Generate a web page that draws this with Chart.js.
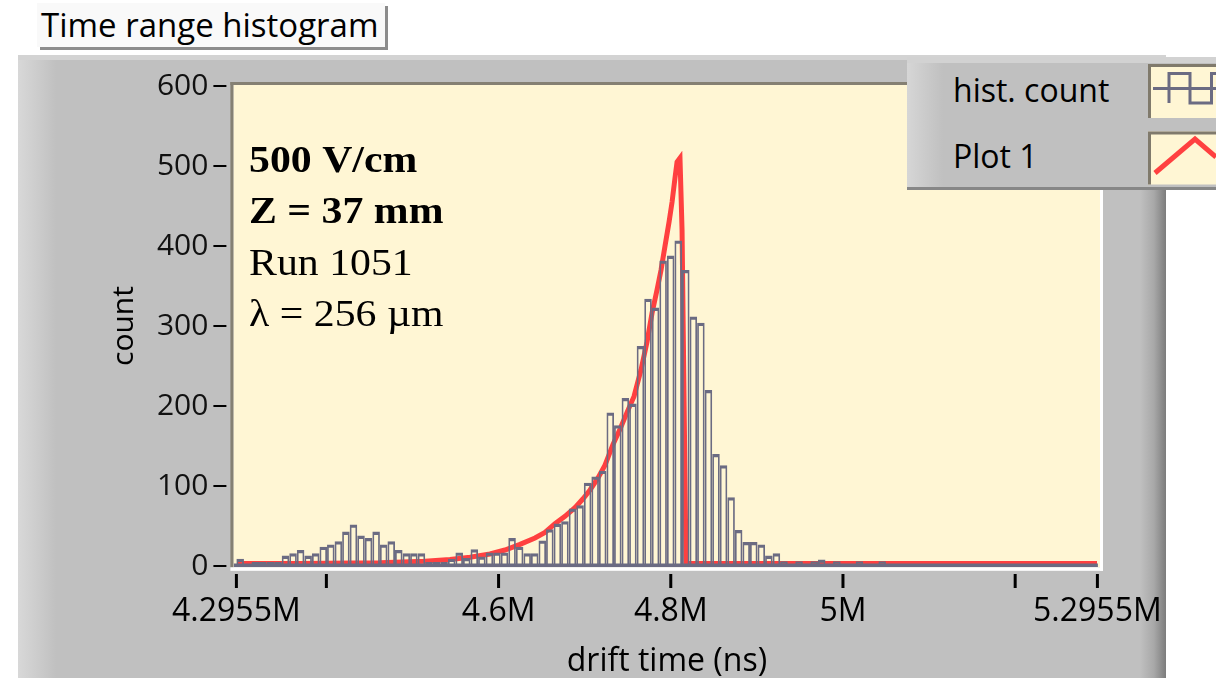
<!DOCTYPE html>
<html>
<head>
<meta charset="utf-8">
<title>Time range histogram</title>
<script src="https://cdn.jsdelivr.net/npm/chart.js@4.4.1/dist/chart.umd.min.js"></script>
<style>
  html, body { margin: 0; padding: 0; background: #fff; }
  body { position: relative; width: 1216px; height: 678px; overflow: hidden; font-family: "Open Sans", sans-serif; color: #000; }
  #title { position: absolute; left: 37px; top: 3px; width: 344px; height: 44px; padding-left: 4px; background: #f9f9f9; box-shadow: 3px 3px 0 #8c8c8c; font-size: 33px; line-height: 44px; white-space: nowrap; }
  #panel { position: absolute; left: 18px; top: 55px; width: 1148px; height: 623px; box-sizing: border-box; border-top: 5px solid #d3d3d3;
           background: linear-gradient(to right, #d8d8d8 0px, #c8c8c8 26px, #c0c0c0 38px, #c0c0c0 1122px, #a8a8a8 1136px, #7c7c7c 1148px); }
  #chartBox { position: absolute; left: 0; top: 0; width: 1216px; height: 678px; }
  #legend { position: absolute; left: 907px; top: 57px; width: 309px; height: 133px; box-sizing: border-box; border-top: 6px solid #d2d2d2; border-bottom: 3px solid #878787;
            background: linear-gradient(to right, #d6d6d6 0px, #c6c6c6 26px, #c0c0c0 36px); }
  .lab { position: absolute; left: 46px; font-size: 32px; line-height: 44px; white-space: nowrap; }
  #swatches { position: absolute; left: 1148px; top: 64px; }
</style>
</head>
<body>
<div id="title">Time range histogram</div>
<div id="panel"></div>
<div id="chartBox"><canvas id="histChart"></canvas></div>
<div id="legend">
  <div class="lab" style="top:4.6px">hist. count</div>
  <div class="lab" style="top:70.6px">Plot 1</div>
</div>
<svg id="swatches" width="68" height="121">
  <rect x="0" y="0" width="68" height="54" fill="#fff6d4"/>
  <path d="M1.5 54 V1.5 H68" stroke="#807a6c" stroke-width="3" fill="none"/>
  <path d="M5 24.5 H68 M21 39 V9.5 H42 V39 H63.5 V9.5 H68" stroke="#6b6b82" stroke-width="3" fill="none"/>
  <rect x="0" y="67.5" width="68" height="53" fill="#fff6d4"/>
  <path d="M1.5 120.5 V69 H68" stroke="#807a6c" stroke-width="3" fill="none"/>
  <path d="M7 109 L47 75 L68 93" stroke="#ff4040" stroke-width="5" fill="none"/>
</svg>

<script>
// Histogram counts, 114 equal bins from 4.2955M to 5.2955M ns
const histCounts = [
  9, 1, 5, 5, 5, 5, 13, 16, 20, 13,
  16, 24, 27, 31, 43, 52, 38, 35, 43, 27,
  31, 20, 16, 16, 16, 5, 5, 5, 9, 17,
  10, 21, 12, 17, 17, 17, 35, 24, 16, 16,
  32, 46, 53, 56, 72, 76, 104, 112, 119, 192,
  176, 210, 203, 275, 334, 323, 382, 388, 407, 370,
  312, 304, 220, 140, 126, 86, 45, 30, 30, 27,
  13, 16, 6, 0, 6, 0, 6, 8, 0, 6,
  0, 0, 6, 0, 0, 6, 0, 0, 0, 0,
  0, 0, 0, 0, 0, 0, 0, 0, 0, 0,
  0, 0, 0, 0, 0, 0, 0, 0, 0, 0,
  0, 0, 0, 0
];
const binLabels = histCounts.map((c, i) => "bin " + i);

// Fitted curve "Plot 1" (drift time in M ns, count)
const fitTimes = [4.2962, 4.3694, 4.4623, 4.5145, 4.5436, 4.5668, 4.5900, 4.6074, 4.6249, 4.6423,
                  4.6539, 4.6655, 4.6771, 4.6887, 4.6981, 4.7062, 4.7155, 4.7236, 4.7329, 4.7410,
                  4.7492, 4.7573, 4.7654, 4.7724, 4.7782, 4.7840, 4.7887, 4.7933, 4.7980, 4.8015,
                  4.8049, 4.8073, 4.8107, 4.8131, 4.8177, 4.8340, 5.2950];
const fitCounts = [3, 3, 4, 6, 8, 11, 15, 20, 27, 35,
                   42, 53, 62, 73, 84, 95, 110, 126, 152, 171,
                   192, 212, 245, 280, 316, 345, 370, 400, 430, 455,
                   485, 505, 510, 420, 3, 3, 3];

// Axis ticks
const xTickValues = [4.2955, 4.4, 4.6, 4.8, 5.0, 5.2, 5.2955];
const xTickLabels = ["4.2955M", "", "4.6M", "4.8M", "5M", "", "5.2955M"];
const yTickValues = [0, 100, 200, 300, 400, 500, 600];

// Text written inside the plot
const noteLines = ["500 V/cm", "Z = 37 mm", "Run 1051", "λ = 256 µm"];
const noteBold = [true, true, false, false];

const barColor = "#6b6b82";
const fitColor = "#ff4040";

// Cream plot area with its bevel, baseline, tick marks and the notes
const plotFrame = {
  id: "plotFrame",
  beforeDraw(chart) {
    const {ctx, chartArea: a} = chart;
    const l = a.left - 3, t = a.top - 1, r = a.right + 2.6, b = a.bottom + 1.3;
    ctx.save();
    ctx.fillStyle = "#fff6d4";
    ctx.fillRect(l, t, r - l, b - t);
    ctx.fillStyle = "#858073";
    ctx.fillRect(l - 3, t - 3, r - l + 3, 3);
    ctx.fillRect(l - 3, t - 3, 3, b - t + 3);
    ctx.fillStyle = "#ffffff";
    ctx.fillRect(r, t - 3, 3, b - t + 6.5);
    ctx.fillRect(l - 3, b, r - l + 6, 3.5);
    ctx.restore();
  },
  afterDatasetsDraw(chart) {
    const {ctx, chartArea: a, scales} = chart;
    const y0 = scales.y.getPixelForValue(0);
    ctx.save();
    ctx.strokeStyle = barColor;
    ctx.lineWidth = 3.6;
    ctx.beginPath();
    ctx.moveTo(a.left - 2.5, y0 - 0.8);
    ctx.lineTo(a.right + 0.5, y0 - 0.8);
    ctx.stroke();

    ctx.strokeStyle = "#000";
    ctx.lineWidth = 3;
    scales.x.ticks.forEach(tk => {
      const x = scales.x.getPixelForValue(tk.value);
      ctx.beginPath();
      ctx.moveTo(x, a.bottom + 8);
      ctx.lineTo(x, a.bottom + 22);
      ctx.stroke();
    });
    ctx.lineWidth = 2;
    scales.y.ticks.forEach(tk => {
      const y = scales.y.getPixelForValue(tk.value);
      ctx.beginPath();
      ctx.moveTo(a.left - 23, y);
      ctx.lineTo(a.left - 10, y);
      ctx.stroke();
    });
    ctx.restore();
  },
  afterDraw(chart) {
    const {ctx, chartArea: a} = chart;
    ctx.save();
    ctx.fillStyle = "#000";
    ctx.textBaseline = "alphabetic";
    noteLines.forEach((txt, i) => {
      ctx.save();
      ctx.translate(a.left + 12.6, a.top + 86 + i * 51.3);
      ctx.scale(1.1, 1);
      ctx.font = (noteBold[i] ? "bold " : "") + "38px 'Liberation Serif'";
      ctx.fillText(txt, 0, 0);
      ctx.restore();
    });
    ctx.restore();
  }
};

new Chart(document.getElementById("histChart"), {
  type: "bar",
  data: {
    labels: binLabels,
    datasets: [
      {
        type: "bar",
        label: "hist. count",
        data: histCounts,
        xAxisID: "bins",
        yAxisID: "y",
        backgroundColor: "rgba(0,0,0,0)",
        borderColor: barColor,
        borderWidth: {top: 3.3, left: 1.75, right: 1.75, bottom: 0},
        borderSkipped: false,
        inflateAmount: 0,
        grouped: false,
        barPercentage: 1,
        categoryPercentage: 1,
        clip: false,
        order: 0
      },
      {
        type: "line",
        label: "Plot 1",
        data: fitTimes.map((t, i) => ({x: t, y: fitCounts[i]})),
        xAxisID: "x",
        yAxisID: "y",
        borderColor: fitColor,
        borderWidth: 5,
        pointRadius: 0,
        tension: 0,
        fill: false,
        order: 1
      }
    ]
  },
  options: {
    responsive: true,
    maintainAspectRatio: false,
    devicePixelRatio: 1,
    animation: false,
    events: [],
    layout: {padding: {top: 86, right: 118.6, bottom: 0, left: 0}},
    plugins: {legend: {display: false}, tooltip: {enabled: false}},
    scales: {
      bins: {
        type: "category",
        axis: "x",
        position: "bottom",
        display: false,
        offset: true,
        grid: {offset: true}
      },
      x: {
        type: "linear",
        position: "bottom",
        min: 4.2955,
        max: 5.2955,
        offset: false,
        afterBuildTicks: s => { s.ticks = xTickValues.map(v => ({value: v})); },
        afterFit: s => { s.height = 112; },
        grid: {display: false, drawTicks: false, offset: false},
        border: {display: false},
        ticks: {
          autoSkip: false,
          maxRotation: 0,
          padding: 27,
          color: "#000",
          font: {family: "Open Sans", size: 32},
          callback: (v, i) => xTickLabels[i]
        },
        title: {
          display: true,
          text: "drift time (ns)",
          color: "#000",
          font: {family: "Open Sans", size: 32, lineHeight: 1},
          padding: {top: 0, bottom: 0}
        }
      },
      y: {
        type: "linear",
        min: 0,
        max: 600,
        afterBuildTicks: s => { s.ticks = yTickValues.map(v => ({value: v})); },
        afterFit: s => { s.width = 236.4; },
        grid: {display: false, drawTicks: false},
        border: {display: false},
        ticks: {padding: 28, color: "#111", font: {family: "Open Sans", size: 30}},
        title: {
          display: true,
          text: "count",
          color: "#000",
          font: {family: "Open Sans", size: 30, lineHeight: 1.2},
          padding: {top: 106, bottom: 0}
        }
      }
    }
  },
  plugins: [plotFrame]
});
</script>
</body>
</html>
